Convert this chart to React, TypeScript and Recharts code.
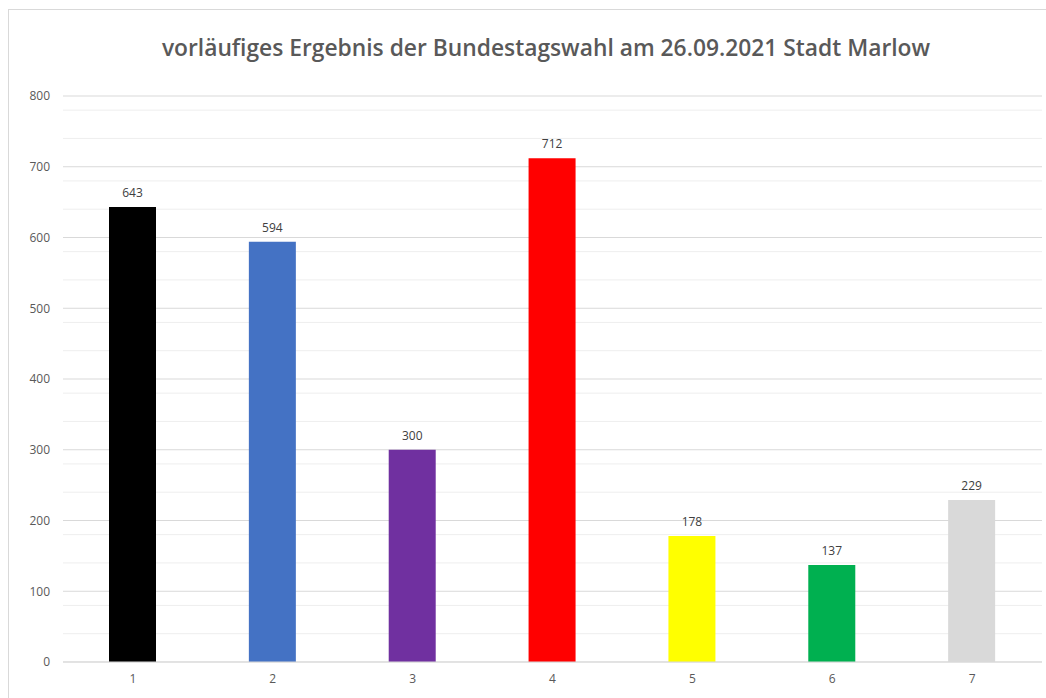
import { BarChart, Bar, XAxis, YAxis, CartesianGrid, Cell, LabelList } from 'recharts'

const categories = ['1', '2', '3', '4', '5', '6', '7']
const votes = [643, 594, 300, 712, 178, 137, 229]
const barColors = ['#000000', '#4472C4', '#7030A0', '#FF0000', '#FFFF00', '#00B050', '#D9D9D9']
const yTicks = [0, 100, 200, 300, 400, 500, 600, 700, 800]
const minorTicks = [
  20, 40, 60, 80, 120, 140, 160, 180, 220, 240, 260, 280, 320, 340, 360, 380,
  420, 440, 460, 480, 520, 540, 560, 580, 620, 640, 660, 680, 720, 740, 760, 780,
]

const data = categories.map((c, i) => ({ name: c, value: votes[i] }))

const font = '"Open Sans", "Liberation Sans", sans-serif'

export default function App() {
  return (
    <div style={{ position: 'absolute', left: 0, top: 0, width: 1046, height: 698, background: '#fff', overflow: 'hidden', fontFamily: font }}>
      {/* chart frame */}
      <div style={{ position: 'absolute', left: 8, top: 9, width: 1060, height: 720, border: '1px solid #d9d9d9' }} />
      <div
        style={{
          position: 'absolute',
          left: 23,
          top: 32,
          width: 1046,
          textAlign: 'center',
          fontSize: 22.8,
          fontWeight: 600,
          color: '#595959',
          whiteSpace: 'nowrap',
        }}
      >
        vorläufiges Ergebnis der Bundestagswahl am 26.09.2021 Stadt Marlow
      </div>
      <div style={{ position: 'absolute', left: 0, top: 0 }}>
        <BarChart width={1046} height={698} data={data} margin={{ top: 96, right: 4, bottom: 0, left: 0 }} barSize={47}>
          <CartesianGrid vertical={false} stroke="#eeeeee" horizontalValues={minorTicks} />
          <CartesianGrid vertical={false} stroke="#d9d9d9" horizontalValues={yTicks} />
          <XAxis
            dataKey="name"
            height={36}
            axisLine={{ stroke: '#d9d9d9' }}
            tickLine={false}
            tickMargin={6}
            tick={{ fill: '#595959', fontSize: 12, fontFamily: font }}
          />
          <YAxis
            width={63}
            domain={[0, 800]}
            ticks={yTicks}
            axisLine={false}
            tickLine={false}
            tickMargin={7}
            tick={{ fill: '#595959', fontSize: 12, fontFamily: font }}
          />
          <Bar dataKey="value" isAnimationActive={false}>
            {data.map((d, i) => (
              <Cell key={d.name} fill={barColors[i]} />
            ))}
            <LabelList dataKey="value" position="top" offset={10} fill="#404040" fontSize={12} fontFamily={font} />
          </Bar>
        </BarChart>
      </div>
    </div>
  )
}
